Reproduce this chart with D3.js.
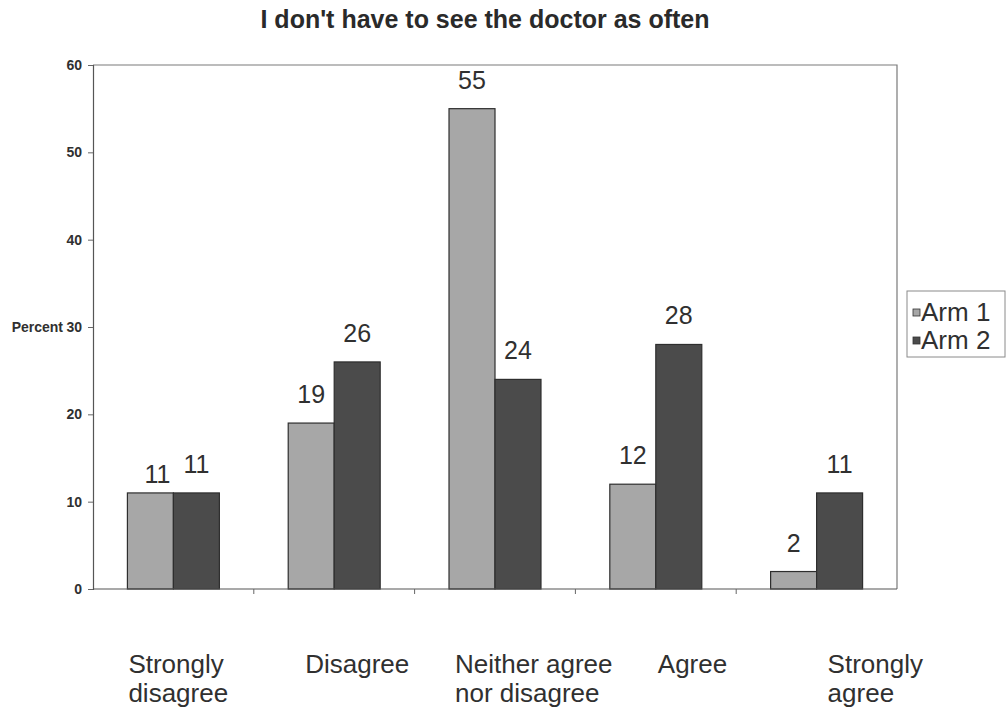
<!DOCTYPE html>
<html>
<head>
<meta charset="utf-8">
<script src="https://cdn.jsdelivr.net/npm/d3@7"></script>
<style>
  body { margin: 0; background: #ffffff; }
  svg { display: block; }
  text { font-family: "Liberation Sans", Arial, Helvetica, sans-serif; fill: #303030; }
</style>
</head>
<body>
<svg id="chart" width="1007" height="711"></svg>
<script>
// Survey responses: "I don't have to see the doctor as often"
const categories = ["Strongly disagree", "Disagree", "Neither agree nor disagree", "Agree", "Strongly agree"];
const categoryLines = [["Strongly", "disagree"], ["Disagree"], ["Neither agree", "nor disagree"], ["Agree"], ["Strongly", "agree"]];
const seriesNames = ["Arm 1", "Arm 2"];
const arm1 = [11, 19, 55, 12, 2];
const arm2 = [11, 26, 24, 28, 11];
const yTicks = [0, 10, 20, 30, 40, 50, 60];

// Layout
const plot = { left: 93, right: 897, top: 65, bottom: 589 };
const groupFraction = 0.572;                   // share of each category slot used by the bar pair
const labelLeftShift = [-45, -29, -40, 2, 11]; // left edge of each category caption relative to slot centre
const colors = { "Arm 1": "#a7a7a7", "Arm 2": "#4b4b4b" };
// the two equal labels in the first slot are staggered so they don't touch
const valueLabelNudge = { "Strongly disagree|Arm 1": [7, 10] };

const svg = d3.select("#chart");

const x0 = d3.scaleBand().domain(categories).range([plot.left, plot.right]).padding(0);
const groupWidth = x0.bandwidth() * groupFraction;
const x1 = d3.scaleBand().domain(seriesNames).range([0, groupWidth]).padding(0);
const y = d3.scaleLinear().domain([0, 60]).range([plot.bottom, plot.top]);

const rows = categories.map((c, i) => ({ category: c, values: [arm1[i], arm2[i]] }));
const cells = d => d.values.map((v, j) => ({ category: d.category, series: seriesNames[j], value: v }));
const nudge = d => valueLabelNudge[d.category + "|" + d.series] || [0, 0];

// Title
svg.append("text")
  .attr("x", 485).attr("y", 28)
  .attr("text-anchor", "middle")
  .style("font-size", "25px").style("font-weight", "bold")
  .style("fill", "#2a2a2a")
  .text("I don't have to see the doctor as often");

// Plot frame (top and right edges)
svg.append("path")
  .attr("d", `M${plot.left},${plot.top}H${plot.right}V${plot.bottom}`)
  .attr("fill", "none").attr("stroke", "#7a7a7a").attr("stroke-width", 1.2);

// Y axis
const yAxis = svg.append("g")
  .attr("transform", `translate(${plot.left},0)`)
  .call(d3.axisLeft(y).tickValues(yTicks).tickSize(5).tickPadding(6));
yAxis.select(".domain").attr("stroke", "#555").attr("stroke-width", 1.2);
yAxis.selectAll(".tick line").attr("stroke", "#666");
yAxis.selectAll(".tick text")
  .style("font-size", "14px").style("font-weight", "bold")
  .style("font-family", "'Liberation Sans', Arial, sans-serif")
  .attr("fill", "#333");

// Y axis title
svg.append("text")
  .attr("x", 63).attr("y", y(30)).attr("dy", "0.35em")
  .attr("text-anchor", "end")
  .style("font-size", "14px").style("font-weight", "bold")
  .text("Percent");

// Bars
const groups = svg.append("g").selectAll("g")
  .data(rows).join("g")
  .attr("transform", d => `translate(${x0(d.category) + (x0.bandwidth() - groupWidth) / 2},0)`);

groups.selectAll("rect")
  .data(cells)
  .join("rect")
  .attr("x", d => x1(d.series))
  .attr("y", d => y(d.value))
  .attr("width", x1.bandwidth())
  .attr("height", d => y(0) - y(d.value))
  .attr("fill", d => colors[d.series])
  .attr("stroke", "#2e2e2e").attr("stroke-width", 1.2);

// Value labels
groups.selectAll("text.value")
  .data(cells)
  .join("text")
  .attr("class", "value")
  .attr("x", d => x1(d.series) + x1.bandwidth() / 2 + nudge(d)[0])
  .attr("y", d => y(d.value) - 20 + nudge(d)[1])
  .attr("text-anchor", "middle")
  .style("font-size", "25px")
  .text(d => d.value);

// X axis line and slot separators
const xAxis = svg.append("g");
xAxis.append("line")
  .attr("x1", plot.left).attr("x2", plot.right)
  .attr("y1", y(0)).attr("y2", y(0))
  .attr("stroke", "#555").attr("stroke-width", 1.2);
xAxis.selectAll("line.sep")
  .data(categories.slice(1)).join("line")
  .attr("class", "sep")
  .attr("x1", d => x0(d)).attr("x2", d => x0(d))
  .attr("y1", y(0)).attr("y2", y(0) + 5)
  .attr("stroke", "#666");

// Category captions
categories.forEach((c, i) => {
  const left = x0(c) + x0.bandwidth() / 2 + labelLeftShift[i];
  const t = svg.append("text")
    .attr("x", left)
    .attr("y", 673)
    .attr("text-anchor", "start")
    .style("font-size", "26px");
  categoryLines[i].forEach((line, k) => {
    t.append("tspan")
      .attr("x", left)
      .attr("dy", k === 0 ? 0 : 29)
      .text(line);
  });
});

// Legend
const legend = svg.append("g").attr("transform", "translate(907,291)");
legend.append("rect")
  .attr("width", 98).attr("height", 66)
  .attr("fill", "#fff").attr("stroke", "#8a8a8a").attr("stroke-width", 1);
seriesNames.forEach((s, i) => {
  legend.append("rect")
    .attr("x", 6).attr("y", 18 + i * 28)
    .attr("width", 7).attr("height", 7)
    .attr("fill", colors[s]).attr("stroke", "#333").attr("stroke-width", 0.8);
  legend.append("text")
    .attr("x", 14).attr("y", 30 + i * 28)
    .style("font-size", "26px")
    .text(s);
});
</script>
</body>
</html>
